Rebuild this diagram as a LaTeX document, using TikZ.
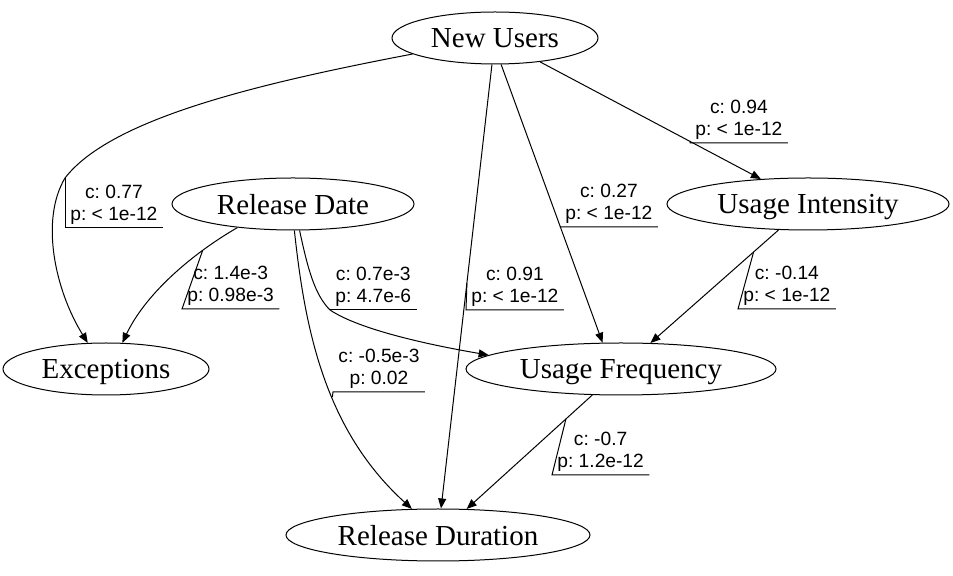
\documentclass[tikz,border=0pt]{standalone}
\usepackage{fontspec}
\setmainfont{Liberation Serif}
\newfontfamily\labfont{Liberation Sans}
\usetikzlibrary{arrows.meta,calc,shapes.geometric}
\frenchspacing
\begin{document}
\begin{tikzpicture}[x=0.5pt,y=-0.5pt,
  var/.style={draw, ellipse, line width=0.5pt, inner sep=0pt, minimum height=26pt, text depth=0pt, font=\fontsize{14.5}{17}\selectfont},
  edge/.style={draw, line width=0.5pt, -{Triangle[length=5pt,width=4pt]}},
  lab/.style={anchor=south west, align=center, inner xsep=2.5pt, inner ysep=1.5pt, font=\labfont\fontsize{9.6}{11}\selectfont},
  deco/.style={line width=0.5pt}]
\useasboundingbox (0,0) rectangle (953,576);
\node[var, minimum width=103pt] (nu) at (495,38) {New Users};
\node[var, minimum width=121pt] (rd) at (293,204) {Release Date};
\node[var, minimum width=141pt] (ui) at (808,204) {Usage Intensity};
\node[var, minimum width=103pt] (exc) at (106,369) {Exceptions};
\node[var, minimum width=155pt] (uf) at (621,369) {Usage Frequency};
\node[var, minimum width=152pt] (rdu) at (438,535) {Release Duration};
% edges
\draw[edge] (nu.191) .. controls (250,85) and (110,120) .. (65,178) coordinate (m1) .. controls (40,220) and (55,290) .. (exc.125);
\draw[edge] (rd.203) .. controls (190,255) and (145,295) .. (exc.58) coordinate[pos=0.25] (m2);
\draw[edge] (rd.273) .. controls (305,330) and (325,430) .. (rdu.135) coordinate[pos=0.57] (m3);
\draw[edge] (rd.284) .. controls (308,270) and (315,295) .. (330,310) coordinate (m4) .. controls (360,330) and (430,345) .. (uf.174);
\draw[edge] (nu) -- (rdu);
\draw[edge] (nu.283) -- (uf.125);
\draw[edge] (nu) -- (ui);
\draw[edge] (ui) -- (uf);
\draw[edge] (uf) -- (rdu);
\coordinate (m5) at ($(nu)!0.493!(rdu)$);
\coordinate (m6) at ($(nu.283)!0.584!(uf.125)$);
\coordinate (m7) at ($(nu)!0.623!(ui)$);
\coordinate (m8) at ($(ui)!0.291!(uf)$);
\coordinate (m9) at ($(uf)!0.301!(rdu)$);
% labels
\node[lab] (l1) at (65,228) {c: 0.77\\p: < 1e-12};
\node[lab] (l2) at (182,309) {c: 1.4e-3\\p: 0.98e-3};
\node[lab] (l3) at (333,392) {c: -0.5e-3\\p: 0.02};
\node[lab] (l4) at (330,310) {c: 0.7e-3\\p: 4.7e-6};
\node[lab] (l5) at (466,310) {c: 0.91\\p: < 1e-12};
\node[lab] (l6) at (560,227) {c: 0.27\\p: < 1e-12};
\node[lab] (l7) at (690,143) {c: 0.94\\p: < 1e-12};
\node[lab] (l8) at (738,309) {c: -0.14\\p: < 1e-12};
\node[lab] (l9) at (552,475) {c: -0.7\\p: 1.2e-12};
\foreach \i in {1,...,9} {
  \draw[deco] (m\i) -- (l\i.south west) -- (l\i.south east);
}
\end{tikzpicture}
\end{document}
